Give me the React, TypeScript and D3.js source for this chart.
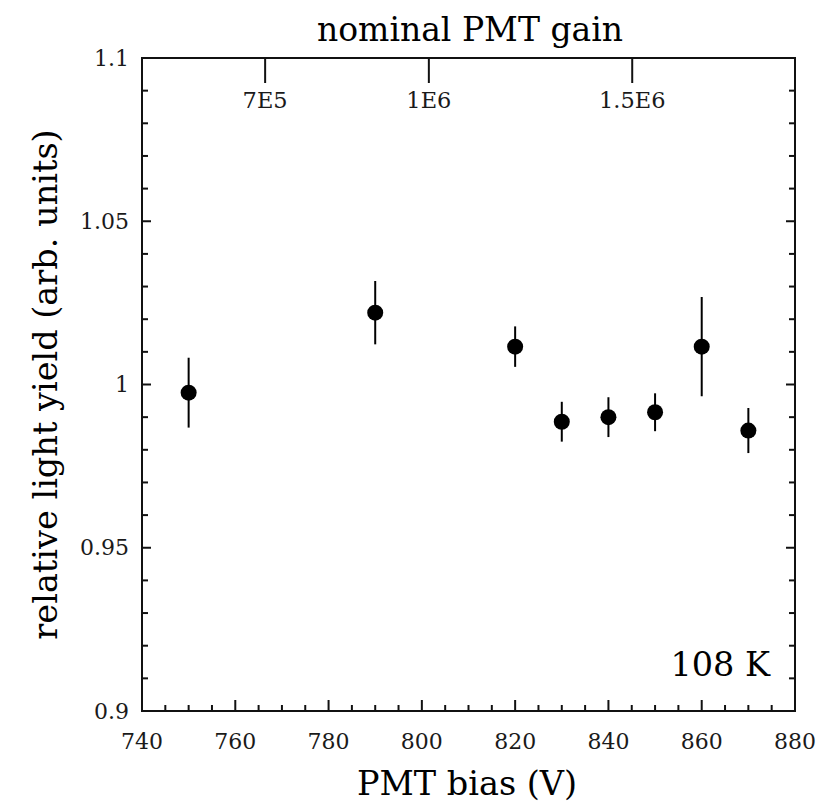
import React from "react";
import * as d3 from "d3";

const biasVoltages = [750, 790, 820, 830, 840, 850, 860, 870];
const lightYield = [0.9975, 1.022, 1.0116, 0.9886, 0.99, 0.9915, 1.0116, 0.9859];
const yieldErrors = [0.0107, 0.0097, 0.0062, 0.0061, 0.0061, 0.0058, 0.0152, 0.0069];

const xTickValues = [740, 760, 780, 800, 820, 840, 860, 880];
const xTickLabels = ["740", "760", "780", "800", "820", "840", "860", "880"];
const yTickValues = [0.9, 0.95, 1, 1.05, 1.1];
const yTickLabels = ["0.9", "0.95", "1", "1.05", "1.1"];
const gainTickBias = [766.4, 801.5, 845.1];
const gainTickLabels = ["7E5", "1E6", "1.5E6"];

const FONT = "'DejaVu Serif', 'Liberation Serif', serif";

export default function App() {
  const W = 819, H = 808;
  const L = 142, R = 795, T = 58, B = 711;
  const x = d3.scaleLinear().domain([740, 880]).range([L, R]);
  const y = d3.scaleLinear().domain([0.9, 1.1]).range([B, T]);

  const xMinor = d3.range(740, 880.001, 5).filter((v) => !xTickValues.includes(v));
  const yMinor = d3.range(0, 21).map((i) => 0.9 + i * 0.01).filter((v) => !yTickValues.some((t) => Math.abs(t - v) < 1e-6));

  const stroke = "#111";
  return (
    <svg width={W} height={H} style={{ position: "absolute", left: 0, top: 0, background: "#fff" }} fontFamily={FONT}>
      <rect x={0} y={0} width={W} height={H} fill="#fff" />
      <rect x={L} y={T} width={R - L} height={B - T} fill="none" stroke={stroke} strokeWidth={2} />
      {xTickValues.map((v) => (
        <line key={"xm" + v} x1={x(v)} x2={x(v)} y1={B} y2={B - 11} stroke={stroke} strokeWidth={2} />
      ))}
      {xMinor.map((v) => (
        <line key={"xn" + v} x1={x(v)} x2={x(v)} y1={B} y2={B - 6} stroke={stroke} strokeWidth={2} />
      ))}
      {xTickValues.map((v, i) => (
        <text key={"xl" + v} x={x(v)} y={749} textAnchor="middle" fontSize={22} fill="#1a1a1a">
          {xTickLabels[i]}
        </text>
      ))}
      {yTickValues.map((v) => (
        <g key={"ym" + v}>
          <line x1={L} x2={L + 9} y1={y(v)} y2={y(v)} stroke={stroke} strokeWidth={2} />
          <line x1={R} x2={R - 9} y1={y(v)} y2={y(v)} stroke={stroke} strokeWidth={2} />
        </g>
      ))}
      {yMinor.map((v) => (
        <g key={"yn" + v}>
          <line x1={L} x2={L + 6} y1={y(v)} y2={y(v)} stroke={stroke} strokeWidth={2} />
          <line x1={R} x2={R - 6} y1={y(v)} y2={y(v)} stroke={stroke} strokeWidth={2} />
        </g>
      ))}
      {yTickValues.map((v, i) => (
        <text key={"yl" + v} x={L - 13} y={y(v)} dy="0.35em" textAnchor="end" fontSize={22} fill="#1a1a1a">
          {yTickLabels[i]}
        </text>
      ))}
      {gainTickBias.map((v, i) => (
        <g key={"g" + i}>
          <line x1={x(v)} x2={x(v)} y1={T} y2={T + 25} stroke={stroke} strokeWidth={2} />
          <text x={x(v)} y={T + 42} dy="0.35em" textAnchor="middle" fontSize={22.5} fill="#1a1a1a">
            {gainTickLabels[i]}
          </text>
        </g>
      ))}
      <text x={470} y={41} textAnchor="middle" fontSize={33} fill="#000">nominal PMT gain</text>
      <text x={467} y={795} textAnchor="middle" fontSize={33.5} fill="#000">PMT bias (V)</text>
      <text transform={`translate(45, ${(T + B) / 2}) rotate(-90)`} textAnchor="middle" dy="0.35em" fontSize={33.5} fill="#000">
        relative light yield (arb. units)
      </text>
      <text x={770} y={676} textAnchor="end" fontSize={33.5} fill="#000">108 K</text>
      {biasVoltages.map((v, i) => (
        <g key={"d" + v}>
          <line x1={x(v)} x2={x(v)} y1={y(lightYield[i] - yieldErrors[i])} y2={y(lightYield[i] + yieldErrors[i])} stroke="#000" strokeWidth={2} />
          <circle cx={x(v)} cy={y(lightYield[i])} r={8} fill="#000" />
        </g>
      ))}
    </svg>
  );
}
